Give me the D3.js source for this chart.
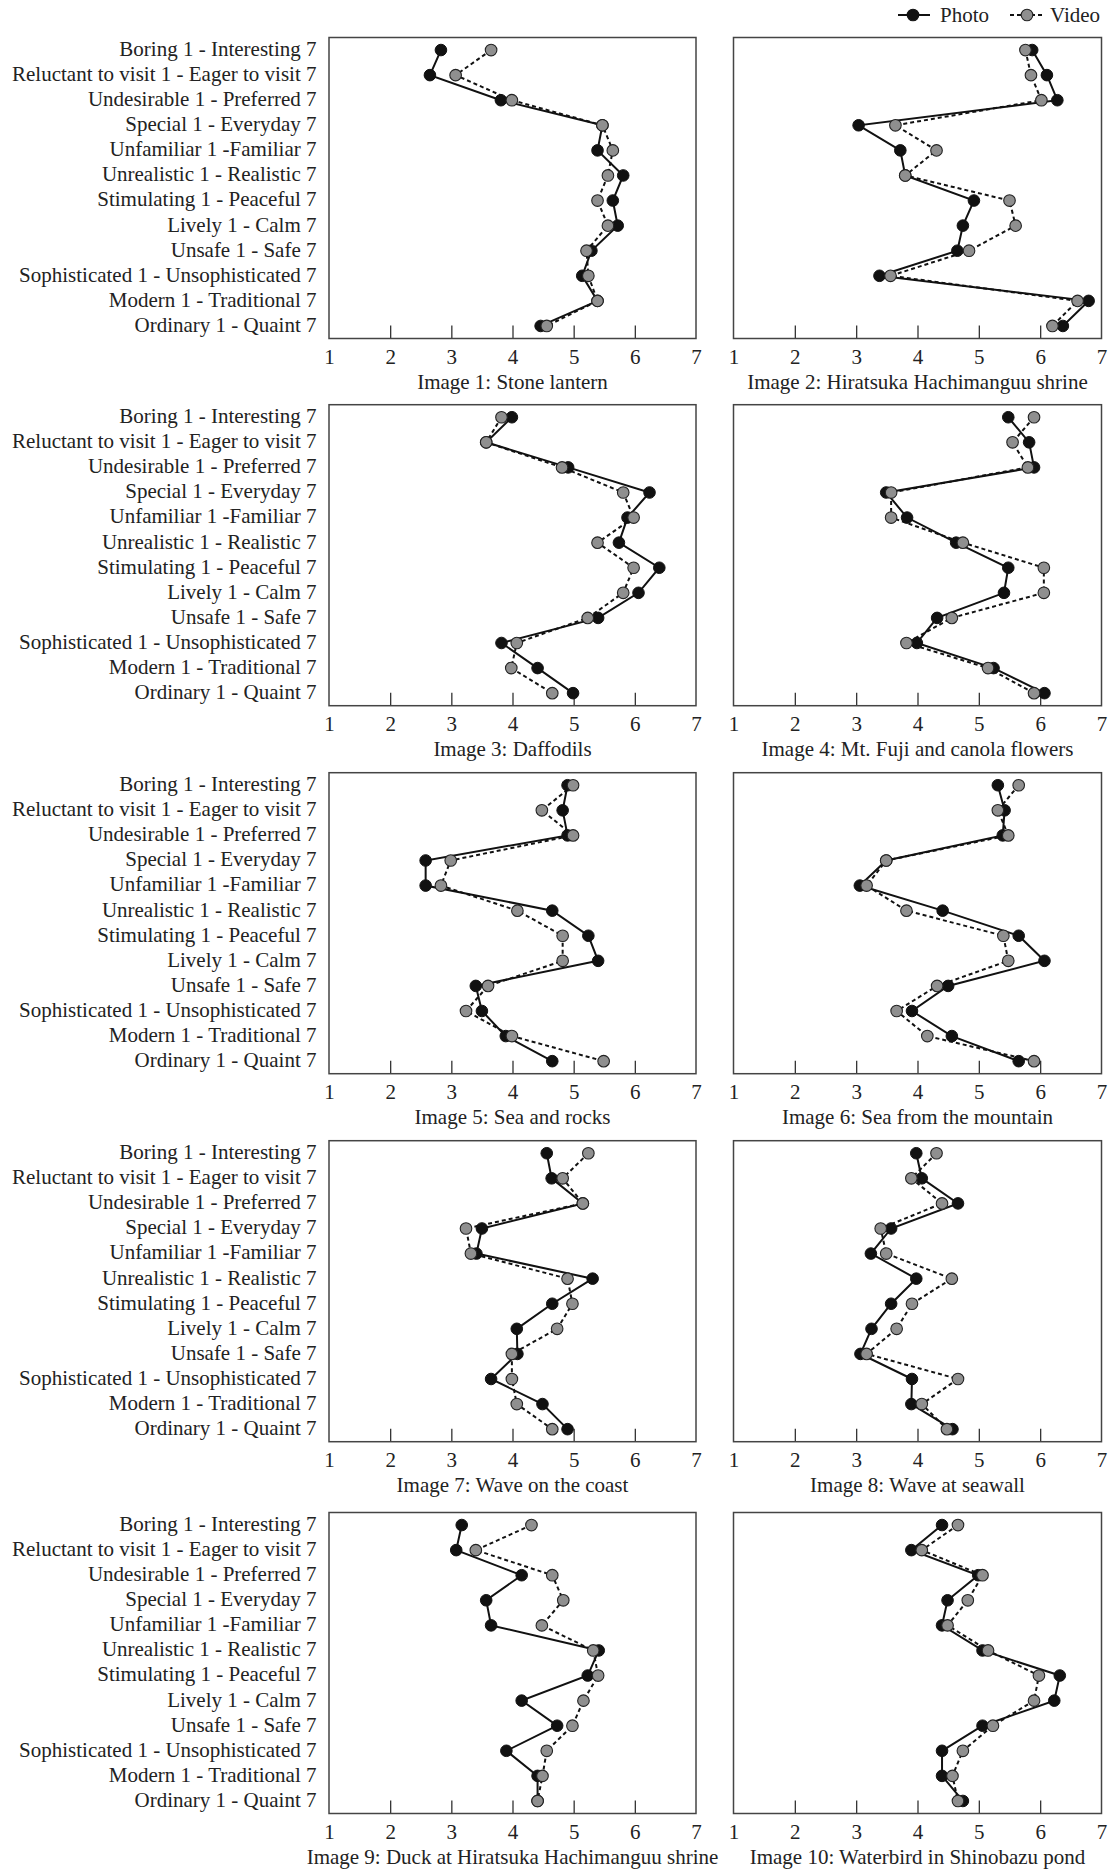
<!DOCTYPE html>
<html><head><meta charset="utf-8">
<script src="https://cdn.jsdelivr.net/npm/d3@7"></script>
<style>body{margin:0;background:#fff}</style>
</head><body>
<svg id="c" width="1108" height="1869"></svg>
<script>
const attributes = [
  "Boring 1 - Interesting 7",
  "Reluctant to visit 1 - Eager to visit 7",
  "Undesirable 1 - Preferred 7",
  "Special 1 - Everyday 7",
  "Unfamiliar 1 -Familiar 7",
  "Unrealistic 1 - Realistic 7",
  "Stimulating 1 - Peaceful 7",
  "Lively 1 - Calm 7",
  "Unsafe 1 - Safe 7",
  "Sophisticated 1 - Unsophisticated 7",
  "Modern 1 - Traditional 7",
  "Ordinary 1 - Quaint 7"
];
const titles = [
  "Image 1: Stone lantern",
  "Image 2: Hiratsuka Hachimanguu shrine",
  "Image 3: Daffodils",
  "Image 4: Mt. Fuji and canola flowers",
  "Image 5: Sea and rocks",
  "Image 6: Sea from the mountain",
  "Image 7: Wave on the coast",
  "Image 8: Wave at seawall",
  "Image 9: Duck at Hiratsuka Hachimanguu shrine",
  "Image 10: Waterbird in Shinobazu pond"
];
const xTicks = [1, 2, 3, 4, 5, 6, 7];
const seriesNames = ["Photo", "Video"];

const photo1 = [2.83, 2.65, 3.81, 5.47, 5.39, 5.81, 5.64, 5.72, 5.29, 5.14, 5.39, 4.46];
const video1 = [3.65, 3.07, 3.99, 5.47, 5.64, 5.56, 5.39, 5.56, 5.21, 5.24, 5.39, 4.56];
const photo2 = [5.87, 6.11, 6.28, 3.04, 3.72, 3.80, 4.92, 4.74, 4.65, 3.38, 6.79, 6.37];
const video2 = [5.76, 5.85, 6.02, 3.64, 4.31, 3.80, 5.50, 5.60, 4.84, 3.56, 6.61, 6.20];
const photo3 = [3.99, 3.57, 4.91, 6.24, 5.88, 5.74, 6.40, 6.06, 5.40, 3.82, 4.41, 4.99];
const video3 = [3.82, 3.57, 4.81, 5.81, 5.98, 5.39, 5.98, 5.81, 5.23, 4.07, 3.98, 4.65];
const photo4 = [5.48, 5.82, 5.90, 3.49, 3.83, 4.63, 5.48, 5.41, 4.32, 3.99, 5.24, 6.07];
const video4 = [5.90, 5.55, 5.80, 3.57, 3.57, 4.74, 6.06, 6.06, 4.56, 3.82, 5.15, 5.90];
const photo5 = [4.90, 4.82, 4.90, 2.58, 2.58, 4.65, 5.24, 5.40, 3.40, 3.50, 3.89, 4.65];
const video5 = [4.99, 4.48, 4.99, 2.99, 2.83, 4.08, 4.82, 4.82, 3.60, 3.24, 3.99, 5.49];
const photo6 = [5.31, 5.42, 5.39, 3.49, 3.06, 4.41, 5.65, 6.07, 4.50, 3.91, 4.56, 5.65];
const video6 = [5.65, 5.31, 5.48, 3.49, 3.17, 3.82, 5.40, 5.48, 4.32, 3.66, 4.16, 5.90];
const photo7 = [4.56, 4.64, 5.15, 3.50, 3.41, 5.31, 4.65, 4.07, 4.08, 3.65, 4.49, 4.90];
const video7 = [5.24, 4.82, 5.15, 3.24, 3.32, 4.90, 4.98, 4.73, 3.99, 3.99, 4.07, 4.65];
const photo8 = [3.98, 4.07, 4.66, 3.57, 3.24, 3.98, 3.57, 3.25, 3.07, 3.91, 3.90, 4.57];
const video8 = [4.31, 3.90, 4.40, 3.40, 3.49, 4.56, 3.91, 3.66, 3.17, 4.66, 4.07, 4.48];
const photo9 = [3.17, 3.08, 4.15, 3.57, 3.65, 5.41, 5.23, 4.15, 4.73, 3.90, 4.41, 4.41];
const video9 = [4.31, 3.40, 4.65, 4.83, 4.48, 5.32, 5.40, 5.16, 4.98, 4.56, 4.49, 4.41];
const photo10 = [4.40, 3.90, 4.99, 4.49, 4.40, 5.06, 6.32, 6.23, 5.06, 4.40, 4.40, 4.74];
const video10 = [4.66, 4.07, 5.06, 4.82, 4.49, 5.15, 5.98, 5.90, 5.23, 4.74, 4.57, 4.66];

const photoSets = [photo1, photo2, photo3, photo4, photo5, photo6, photo7, photo8, photo9, photo10];
const videoSets = [video1, video2, video3, video4, video5, video6, video7, video8, video9, video10];

const svg = d3.select("#c");
const FONT = "'Liberation Serif','Times New Roman',serif";
const colX = [[329, 696], [733.5, 1101.5]];
const rowTop = [37.5, 404.7, 772.7, 1140.7, 1512.5];
const panelH = 301;
const txt = "#222";

titles.forEach((title, i) => {
  const col = i % 2, row = Math.floor(i / 2);
  const [xa, xb] = colX[col];
  const top = rowTop[row], bot = top + panelH;
  const x = d3.scaleLinear().domain([1, 7]).range([xa, xb]);
  const y = d3.scaleBand().domain(attributes).range([top, bot]);
  const yc = d => y(d) + y.bandwidth() / 2;
  const g = svg.append("g");

  // ticks (inside, upward)
  const ax = g.append("g").attr("transform", `translate(0,${bot})`)
    .call(d3.axisBottom(x).tickValues(xTicks).tickFormat(d3.format("d")).tickSize(-13).tickPadding(0));
  ax.select(".domain").remove();
  ax.selectAll(".tick line").attr("stroke", "#333").attr("stroke-width", 1.3)
    .filter(d => d === 1 || d === 7).remove();
  ax.selectAll(".tick text").attr("y", 25).attr("dy", 0)
    .attr("font-family", FONT).attr("font-size", 21).attr("fill", txt);

  // frame
  g.append("rect").attr("x", xa).attr("y", top).attr("width", xb - xa).attr("height", panelH)
    .attr("fill", "none").attr("stroke", "#444").attr("stroke-width", 1.5);

  // title
  g.append("text").attr("x", (xa + xb) / 2).attr("y", bot + 50)
    .attr("text-anchor", "middle").attr("font-family", FONT).attr("font-size", 21)
    .attr("fill", txt).text(title);

  // category labels (left column only)
  if (col === 0) {
    g.append("g").selectAll("text").data(attributes).join("text")
      .attr("x", 316.5).attr("y", d => yc(d)).attr("dy", "0.28em")
      .attr("text-anchor", "end").attr("font-family", FONT).attr("font-size", 21)
      .attr("fill", txt).text(d => d);
  }

  const pv = photoSets[i], vv = videoSets[i];
  const line = d3.line().x(d => x(d[1])).y(d => yc(d[0]));
  const pData = attributes.map((a, k) => [a, pv[k]]);
  const vData = attributes.map((a, k) => [a, vv[k]]);

  g.append("path").datum(pData).attr("d", line).attr("fill", "none")
    .attr("stroke", "#111").attr("stroke-width", 2);
  g.append("path").datum(vData).attr("d", line).attr("fill", "none")
    .attr("stroke", "#111").attr("stroke-width", 2).attr("stroke-dasharray", "4,3");

  g.append("g").selectAll("circle").data(pData).join("circle")
    .attr("cx", d => x(d[1])).attr("cy", d => yc(d[0])).attr("r", 5.8)
    .attr("fill", "#111").attr("stroke", "#111").attr("stroke-width", 1);
  g.append("g").selectAll("circle").data(vData).join("circle")
    .attr("cx", d => x(d[1])).attr("cy", d => yc(d[0])).attr("r", 5.8)
    .attr("fill", "#8f8f8f").attr("stroke", "#222").attr("stroke-width", 1.1);
});

// legend
const lg = svg.append("g");
const legendItems = [
  { name: seriesNames[0], x0: 898, x1: 930, cx: 913, tx: 940, fill: "#111", dash: null },
  { name: seriesNames[1], x0: 1010, x1: 1045, cx: 1027, tx: 1050, fill: "#8f8f8f", dash: "4,3" }
];
legendItems.forEach(it => {
  lg.append("line").attr("x1", it.x0).attr("x2", it.x1).attr("y1", 15).attr("y2", 15)
    .attr("stroke", "#111").attr("stroke-width", 2).attr("stroke-dasharray", it.dash);
  lg.append("circle").attr("cx", it.cx).attr("cy", 15).attr("r", 5.8)
    .attr("fill", it.fill).attr("stroke", it.fill === "#111" ? "#111" : "#222").attr("stroke-width", 1.1);
  lg.append("text").attr("x", it.tx).attr("y", 21.7).attr("font-family", FONT)
    .attr("font-size", 21).attr("fill", txt).text(it.name);
});
</script>
</body></html>
